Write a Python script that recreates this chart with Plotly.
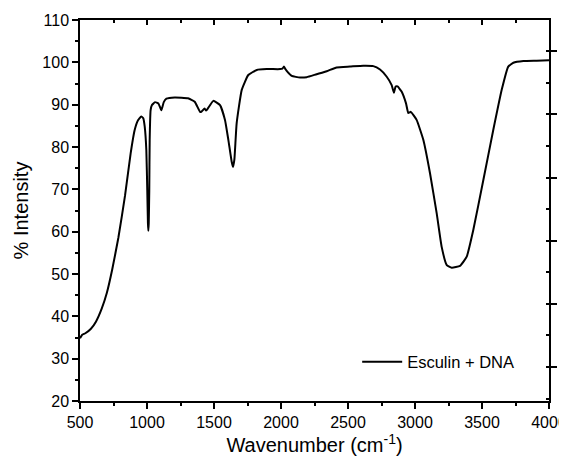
import plotly.graph_objects as go

wavenumber = [500, 515, 540, 580, 620, 662, 700, 740, 786, 836, 878, 908, 933, 957, 972,
              983, 995, 1002, 1007, 1010, 1013, 1017, 1020, 1027, 1037, 1060, 1085, 1107,
              1125, 1145, 1207, 1306, 1356, 1396, 1405, 1430, 1440, 1450, 1495, 1545, 1582,
              1607, 1632, 1642, 1652, 1669, 1707, 1756, 1819, 1893, 1993, 2010, 2022, 2035,
              2047, 2080, 2142, 2192, 2266, 2341, 2415, 2515, 2614, 2689, 2739, 2789, 2826,
              2843, 2855, 2870, 2900, 2933, 2950, 2968, 3012, 3062, 3112, 3162, 3199, 3237,
              3274, 3336, 3386, 3435, 3510, 3584, 3647, 3696, 3734, 3809, 3908, 4000]
intensity = [34.8, 35.6, 36.0, 37.0, 38.8, 41.8, 45.5, 51.0, 58.5, 68.5, 78.5, 84.0, 86.3, 87.2, 86.8,
             84.8, 79.3, 69.8, 62.0, 60.2, 62.0, 69.8, 81.7, 88.7, 89.9, 90.6, 90.3, 88.7,
             90.6, 91.4, 91.7, 91.5, 90.7, 88.3, 88.3, 89.1, 88.6, 88.9, 90.9, 89.9, 86.4,
             81.7, 76.5, 75.3, 77.0, 85.6, 93.5, 97.0, 98.2, 98.4, 98.4, 98.5, 99.0, 98.3,
             97.8, 96.8, 96.4, 96.5, 97.2, 97.9, 98.8, 99.0, 99.2, 99.1, 98.3, 96.6, 94.6,
             92.8, 94.3, 94.3, 93.1, 90.3, 88.0, 88.3, 86.4, 81.7, 73.8, 64.3, 56.4, 52.1,
             51.5, 51.9, 54.1, 60.4, 72.2, 84.0, 93.5, 99.0, 99.9, 100.3, 100.4, 100.5]

x_ticks = [500, 1000, 1500, 2000, 2500, 3000, 3500, 4000]
y_ticks = [20, 30, 40, 50, 60, 70, 80, 90, 100, 110]
series_name = "Esculin + DNA"

FONT = "Arial, Liberation Sans, sans-serif"

fig = go.Figure()
fig.add_trace(go.Scatter(x=wavenumber, y=intensity, mode="lines", name=series_name,
                         line=dict(color="black", width=2, shape="spline", smoothing=0.4)))
# helper trace so the top and right frame axes are drawn
fig.add_trace(go.Scatter(x=[None], y=[None], xaxis="x2", yaxis="y2", showlegend=False,
                         hoverinfo="skip", mode="lines"))

axis_common = dict(showgrid=False, zeroline=False, showline=True, linecolor="black",
                   linewidth=1.5, tickcolor="black", tickwidth=1.5, automargin=False)

# page body has an 8px margin, so the figure is sized/offset to land on the 567x460 window
fig.update_layout(
    width=559, height=452,
    margin=dict(l=72, r=18, t=12, b=59),
    paper_bgcolor="white", plot_bgcolor="white",
    font=dict(family=FONT, color="black", size=16),
    showlegend=True,
    legend=dict(x=0.591, y=0.102, xanchor="left", yanchor="middle",
                bgcolor="rgba(0,0,0,0)", font=dict(size=16.5, family=FONT), itemwidth=40),
    xaxis=dict(range=[500, 4000], tickvals=x_ticks, ticks="outside", ticklen=6,
               minor=dict(dtick=250, tick0=500, ticks="outside", ticklen=3, tickcolor="black", tickwidth=1.5),
               tickfont=dict(size=16),
               title=dict(text="Wavenumber (cm<sup>-1</sup>)", font=dict(size=20), standoff=6),
               **axis_common),
    yaxis=dict(range=[20, 110], tickvals=y_ticks, ticks="outside", ticklen=6,
               minor=dict(dtick=5, tick0=20, ticks="outside", ticklen=3, tickcolor="black", tickwidth=1.5),
               tickfont=dict(size=16),
               title=dict(text="% Intensity", font=dict(size=20), standoff=8),
               **axis_common),
    xaxis2=dict(overlaying="x", side="top", anchor="y", range=[500, 4000], dtick=500, tick0=500,
                ticks="inside", ticklen=5, showticklabels=False,
                minor=dict(dtick=250, tick0=500, ticks="inside", ticklen=3, tickcolor="black", tickwidth=1.5),
                **axis_common),
    yaxis2=dict(overlaying="y", side="right", anchor="x", range=[-0.539, 5.495], dtick=1, tick0=0,
                ticks="outside", ticklen=6, showticklabels=False,
                minor=dict(dtick=0.5, tick0=0, ticks="inside", ticklen=3, tickcolor="black", tickwidth=1.5),
                **axis_common),
)

fig.write_html("out.html")
